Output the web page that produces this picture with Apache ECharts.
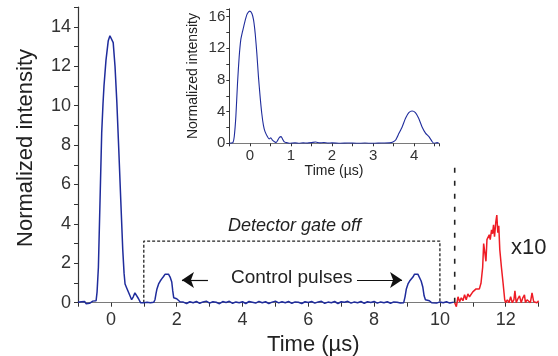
<!DOCTYPE html>
<html>
<head>
<meta charset="utf-8">
<script src="https://cdn.jsdelivr.net/npm/echarts@6/dist/echarts.min.js"></script>
<style>
  html, body { margin: 0; padding: 0; background: #fff; }
  #chart { width: 558px; height: 356px; }
</style>
</head>
<body>
<div id="chart"></div>
<script>
// main trace (blue), time in us, normalized intensity
var mainPeak = [
    [-1.00, 0.02], [-0.95, -0.03], [-0.90, 0.05], [-0.85, -0.04], [-0.80, 0.06], [-0.75, -0.05],
    [-0.70, 0.03], [-0.65, -0.03], [-0.60, 0.04], [-0.55, 0.08], [-0.50, 0.06], [-0.45, 0.10],
    [-0.42, 0.55], [-0.38, 1.8], [-0.33, 5.2], [-0.28, 8.6], [-0.24, 10.1], [-0.21, 11.0],
    [-0.15, 12.3], [-0.08, 13.3], [-0.03, 13.55], [0.00, 13.6], [0.03, 13.5], [0.07, 13.2],
    [0.125, 12.0], [0.18, 10.2], [0.24, 7.75], [0.30, 5.2], [0.36, 2.7], [0.40, 1.5],
    [0.43, 0.95], [0.48, 0.75], [0.53, 0.65], [0.58, 0.35], [0.63, 0.15], [0.68, 0.3],
    [0.73, 0.5], [0.78, 0.45], [0.84, 0.2], [0.90, 0.0], [0.95, -0.05], [1.00, 0.0],
    [1.05, 0.05], [1.10, 0.02], [1.15, 0.05], [1.20, 0.0], [1.25, -0.02], [1.30, 0.02]
];
var controlPulse1 = [
    [1.34, 0.15], [1.37, 0.45], [1.40, 0.7], [1.45, 0.95], [1.50, 1.1], [1.55, 1.22],
    [1.60, 1.33], [1.65, 1.45], [1.70, 1.5], [1.75, 1.45], [1.80, 1.3], [1.85, 1.05],
    [1.88, 0.6], [1.91, 0.25], [1.95, 0.2], [2.00, 0.2], [2.05, 0.15], [2.10, 0.05], [2.15, 0.0]
];
var baselineMid = [
    [2.2, 0.03], [2.3, -0.04], [2.4, 0.05], [2.5, 0.0], [2.6, 0.06], [2.7, -0.03], [2.8, 0.04],
    [2.9, 0.08], [3.0, -0.02], [3.1, 0.05], [3.2, 0.02], [3.3, -0.05], [3.4, 0.06], [3.5, 0.01],
    [3.6, 0.07], [3.7, -0.03], [3.8, 0.04], [3.9, 0.0], [4.0, 0.05], [4.1, -0.04], [4.2, 0.06],
    [4.3, 0.02], [4.4, -0.02], [4.5, 0.07], [4.6, 0.0], [4.7, 0.05], [4.8, -0.04], [4.9, 0.03],
    [5.0, 0.08], [5.1, -0.01], [5.2, 0.05], [5.3, 0.0], [5.4, 0.06], [5.5, -0.03], [5.6, 0.04],
    [5.7, 0.02], [5.8, -0.04], [5.9, 0.05], [6.0, 0.01], [6.1, 0.06], [6.2, -0.02], [6.3, 0.04],
    [6.4, 0.07], [6.5, -0.03], [6.6, 0.03], [6.7, 0.0], [6.8, 0.06], [6.9, -0.04], [7.0, 0.05],
    [7.1, 0.02], [7.2, 0.07], [7.3, -0.02], [7.4, 0.04], [7.5, 0.0], [7.6, 0.06], [7.7, -0.03],
    [7.8, 0.05], [7.9, 0.01], [8.0, 0.06], [8.1, -0.02], [8.2, 0.04], [8.3, 0.0], [8.4, 0.05],
    [8.5, -0.03], [8.6, 0.04], [8.7, 0.02], [8.8, -0.02], [8.86, 0.02]
];
var controlPulse2 = [
    [8.90, 0.0], [8.94, 0.3], [8.98, 0.7], [9.03, 0.95], [9.08, 1.1], [9.13, 1.2], [9.18, 1.3],
    [9.23, 1.45], [9.28, 1.5], [9.33, 1.45], [9.38, 1.35], [9.43, 1.1], [9.48, 0.8], [9.52, 0.35],
    [9.56, 0.15], [9.62, 0.15], [9.68, 0.1], [9.75, 0.0]
];
var baselineEnd = [
    [9.8, 0.03], [9.9, -0.02], [10.0, 0.04], [10.1, 0.0], [10.2, 0.05], [10.3, -0.02], [10.42, 0.03]
];

// retrieved signal (red), shown x10
var retrievedX10 = [
    [10.45, 0.0], [10.50, -0.2], [10.55, 0.3], [10.60, 0.05], [10.65, 0.25], [10.70, 0.1],
    [10.75, 0.4], [10.80, 0.15], [10.85, 0.45], [10.90, 0.3], [10.95, 0.4], [11.00, 0.55],
    [11.05, 0.45], [11.10, 0.7], [11.15, 0.8], [11.20, 0.7], [11.25, 1.0], [11.30, 1.8],
    [11.33, 3.0], [11.37, 2.9], [11.40, 2.1], [11.43, 3.2], [11.47, 3.1], [11.50, 3.45],
    [11.53, 3.2], [11.57, 3.7], [11.60, 3.5], [11.63, 3.95], [11.66, 3.35], [11.70, 4.1],
    [11.73, 4.45], [11.76, 3.55], [11.79, 3.9], [11.82, 2.7], [11.87, 1.8], [11.92, 1.0],
    [11.97, 0.15], [12.00, 0.0], [12.05, 0.15], [12.10, 0.0], [12.15, 0.3], [12.20, 0.0],
    [12.25, 0.15], [12.28, 0.6], [12.32, 0.0], [12.37, 0.2], [12.42, 0.35], [12.47, 0.0],
    [12.52, 0.25], [12.57, 0.4], [12.60, 0.0], [12.65, 0.15], [12.70, 0.25], [12.75, 0.0],
    [12.80, 0.5], [12.85, 0.05], [12.90, 0.15], [12.95, 0.0], [13.00, 0.1]
];

// inset trace
var insetTrace = [
    [-0.5, 0], [-0.45, 0.02], [-0.41, 0.1], [-0.38, 0.83], [-0.34, 3.4], [-0.30, 7.6], [-0.26, 10.9],
    [-0.22, 13.1], [-0.18, 14.1], [-0.14, 14.96], [-0.10, 15.8], [-0.06, 16.4], [0.0, 16.7],
    [0.05, 16.4], [0.09, 15.6], [0.13, 13.9], [0.17, 11.4], [0.21, 8.4], [0.25, 5.9], [0.29, 3.8],
    [0.33, 2.3], [0.37, 1.47], [0.43, 0.83], [0.47, 0.55], [0.51, 0.7], [0.55, 0.4], [0.6, 0.2],
    [0.64, 0.1], [0.68, 0.4], [0.72, 0.75], [0.76, 0.84], [0.8, 0.5], [0.84, 0.17], [0.88, 0.1],
    [0.96, 0.0], [1.1, 0.05], [1.2, 0.0], [1.3, 0.06], [1.4, 0.02], [1.5, 0.08], [1.6, 0.17],
    [1.7, 0.05], [1.8, 0.1], [1.9, 0.02], [2.0, 0.05], [2.2, 0.0], [2.4, 0.04], [2.6, 0.0],
    [2.8, 0.03], [3.0, 0.0], [3.2, 0.04], [3.4, 0.05], [3.47, 0.12], [3.55, 0.42], [3.63, 1.26],
    [3.71, 2.1], [3.79, 3.16], [3.87, 3.87], [3.95, 4.08], [4.03, 3.87], [4.11, 3.16], [4.19, 2.1],
    [4.28, 1.26], [4.36, 0.84], [4.44, 0.2], [4.48, 0.0], [4.56, 0.08], [4.6, 0.0]
];

// annotations
var gateBox = [[1, 0], [1, 3.13], [10, 3.13], [10, 0]];
var cutLine = [[10.45, 0], [10.45, 7.1]];
var arrowLeft = [[2.95, 1.15], [2.16, 1.15]];
var arrowRight = [[7.48, 1.15], [8.85, 1.15]];

var mainTrace = [].concat(mainPeak, controlPulse1, baselineMid, controlPulse2, baselineEnd);

var FONT = 'Liberation Sans, Arial, sans-serif';
var BLUE = '#1f2c9c';
var RED = '#ee1c25';

function evenOnly(v) {
    return Math.abs(v / 2 - Math.round(v / 2)) < 1e-6 ? String(Math.round(v)) : '';
}
function every4(v) {
    return Math.abs(v / 4 - Math.round(v / 4)) < 1e-6 ? String(Math.round(v)) : '';
}
function intOnly(v) {
    return Math.abs(v - Math.round(v)) < 1e-6 ? String(Math.round(v)) : '';
}

var chart = echarts.init(document.getElementById('chart'), null, { renderer: 'canvas' });

var option = {
    animation: false,
    backgroundColor: '#fff',
    grid: [
        { left: 78, right: 19.4, top: 7.2, bottom: 53.3, containLabel: false, outerBoundsMode: 'none' },
        { left: 229.3, right: 119.2, top: 8.8, bottom: 212.7, containLabel: false, outerBoundsMode: 'none' }
    ],
    xAxis: [{
        gridIndex: 0,
        type: 'value',
        min: -1,
        max: 13,
        interval: 1,
        name: 'Time (\u00b5s)',
        nameLocation: 'middle',
        nameGap: 20,
        nameTextStyle: { fontFamily: FONT, fontSize: 22, color: '#222', padding: [0, 0, 0, 10] },
        axisLine: { show: true, onZero: false, lineStyle: { color: '#7a7a7a', width: 1.2 } },
        axisTick: { show: true, length: 4, lineStyle: { color: '#333', width: 1 } },
        axisLabel: { show: true, margin: 8, fontFamily: FONT, fontSize: 18, color: '#333', formatter: evenOnly },
        splitLine: { show: false }
    }, {
        gridIndex: 1,
        type: 'value',
        min: -0.5,
        max: 4.6,
        interval: 0.5,
        name: 'Time (\u00b5s)',
        nameLocation: 'middle',
        nameGap: 20,
        nameTextStyle: { fontFamily: FONT, fontSize: 14, color: '#222' },
        axisLine: { show: true, onZero: false, lineStyle: { color: '#7a7a7a', width: 1 } },
        axisTick: { show: true, length: 3, lineStyle: { color: '#333', width: 1 } },
        axisLabel: { show: true, margin: 5, fontFamily: FONT, fontSize: 15, color: '#333', formatter: intOnly },
        splitLine: { show: false }
    }],
    yAxis: [{
        gridIndex: 0,
        type: 'value',
        min: 0,
        max: 15,
        interval: 1,
        name: 'Normalized intensity',
        nameLocation: 'middle',
        nameGap: 41,
        nameTextStyle: { fontFamily: FONT, fontSize: 22, color: '#222', padding: [0, 0, 0, 14] },
        axisLine: { show: true, onZero: false, lineStyle: { color: '#333', width: 1.2 } },
        axisTick: { show: true, length: 4, lineStyle: { color: '#333', width: 1 } },
        axisLabel: { show: true, margin: 7, fontFamily: FONT, fontSize: 18, color: '#333', formatter: evenOnly },
        splitLine: { show: false }
    }, {
        gridIndex: 1,
        type: 'value',
        min: 0,
        max: 17,
        interval: 2,
        name: 'Normalized intensity',
        nameLocation: 'middle',
        nameGap: 29,
        nameTextStyle: { fontFamily: FONT, fontSize: 14, color: '#222' },
        axisLine: { show: true, onZero: false, lineStyle: { color: '#333', width: 1 } },
        axisTick: { show: true, length: 3, lineStyle: { color: '#333', width: 1 } },
        axisLabel: { show: true, margin: 4, fontFamily: FONT, fontSize: 15, color: '#333', formatter: every4 },
        splitLine: { show: false }
    }],
    series: [{
        name: 'gate',
        type: 'line',
        xAxisIndex: 0,
        yAxisIndex: 0,
        data: gateBox,
        symbol: 'none',
        silent: true,
        lineStyle: { color: '#222', width: 1.3, type: [3, 2] },
        markLine: {
            silent: true,
            symbol: ['none', 'arrow'],
            symbolSize: 12,
            label: { show: false },
            lineStyle: { color: '#111', width: 1.2, type: 'solid' },
            data: [
                [{ coord: arrowLeft[0] }, { coord: arrowLeft[1] }],
                [{ coord: arrowRight[0] }, { coord: arrowRight[1] }]
            ]
        }
    }, {
        name: 'cut',
        type: 'line',
        xAxisIndex: 0,
        yAxisIndex: 0,
        data: cutLine,
        symbol: 'none',
        silent: true,
        lineStyle: { color: '#222', width: 1.6, type: [5, 8] }
    }, {
        name: 'trace',
        type: 'line',
        xAxisIndex: 0,
        yAxisIndex: 0,
        data: mainTrace,
        symbol: 'none',
        clip: false,
        lineStyle: { color: BLUE, width: 1.5 }
    }, {
        name: 'x10',
        type: 'line',
        xAxisIndex: 0,
        yAxisIndex: 0,
        data: retrievedX10,
        symbol: 'none',
        clip: false,
        lineStyle: { color: RED, width: 1.5 }
    }, {
        name: 'inset',
        type: 'line',
        xAxisIndex: 1,
        yAxisIndex: 1,
        data: insetTrace,
        symbol: 'none',
        smooth: 0.2,
        lineStyle: { color: BLUE, width: 1.1 }
    }],
    graphic: [{
        type: 'text',
        left: 228,
        top: 217,
        style: { text: 'Detector gate off', fontFamily: FONT, fontSize: 18, fontStyle: 'italic', fill: '#222' }
    }, {
        type: 'text',
        left: 231,
        top: 268,
        style: { text: 'Control pulses', fontFamily: FONT, fontSize: 19, fill: '#222' }
    }, {
        type: 'text',
        left: 511,
        top: 237,
        style: { text: 'x10', fontFamily: FONT, fontSize: 22, fill: '#222' }
    }]
};

chart.setOption(option);
</script>
</body>
</html>
